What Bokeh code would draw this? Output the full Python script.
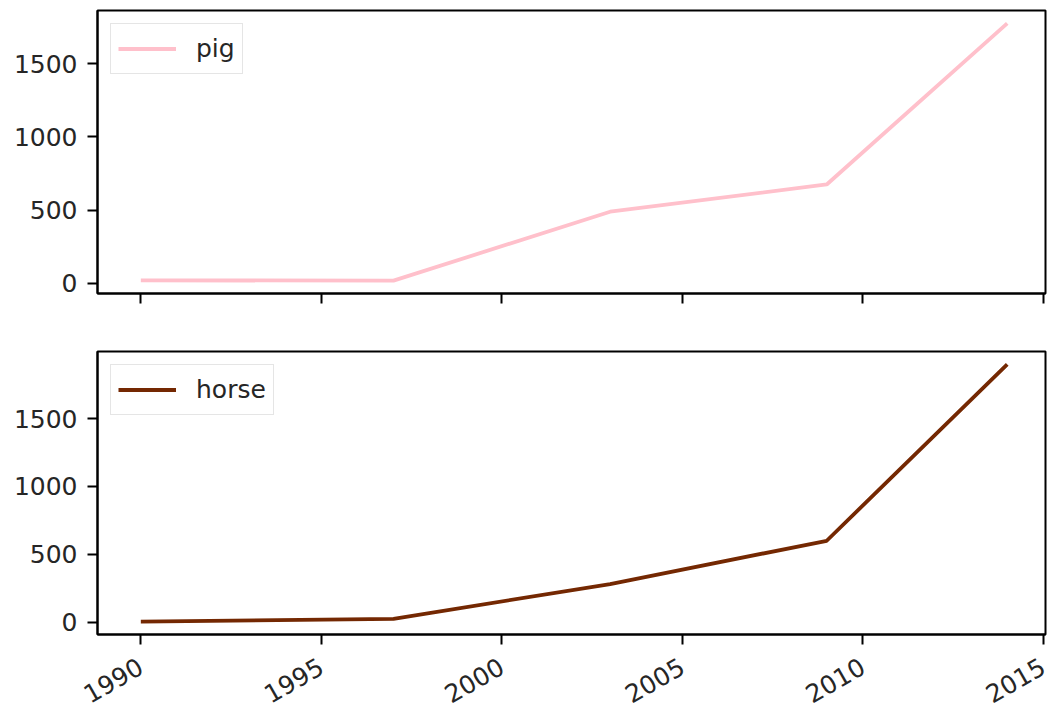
import math
from bokeh.plotting import figure
from bokeh.layouts import column
from bokeh.models import Range1d, FixedTicker, Legend, LegendItem
from bokeh.embed import file_html
from bokeh.resources import INLINE

years = [1990, 1997, 2003, 2009, 2014]
pig = [20, 18, 489, 675, 1776]
horse = [4, 25, 281, 600, 1900]
x_ticks = [1990, 1995, 2000, 2005, 2010, 2015]
y_ticks = [0, 500, 1000, 1500]

FONT = "DejaVu Sans"
FS = "25px"

x_range = Range1d(1988.8, 2015.06)


def make_fig(height, yr, show_labels, top, bottom):
    p = figure(width=1047, height=height, x_range=x_range, y_range=Range1d(*yr),
               output_backend="svg", toolbar_location=None,
               min_border_left=97, min_border_right=2, min_border_top=top,
               min_border_bottom=bottom)
    p.grid.visible = False
    p.outline_line_color = "black"
    p.outline_line_width = 2
    p.outline_line_alpha = 1.0
    for ax in (p.xaxis[0], p.yaxis[0]):
        ax.axis_line_width = 2
        ax.major_tick_line_width = 2
        ax.major_tick_out = 10
        ax.major_tick_in = 0
        ax.minor_tick_line_color = None
        ax.major_label_text_font = FONT
        ax.major_label_text_font_size = FS
        ax.major_label_text_color = "#262626"
    p.xaxis.ticker = FixedTicker(ticks=x_ticks)
    p.yaxis.ticker = FixedTicker(ticks=y_ticks)
    p.yaxis.major_label_standoff = 10
    if show_labels:
        p.xaxis.major_label_orientation = math.pi / 6
        p.xaxis.major_label_standoff = 20
    else:
        p.xaxis.major_label_overrides = {t: "" for t in x_ticks}
        p.xaxis.major_label_standoff = 0
    return p


def add_series(p, ys, color, name):
    r = p.line(years, ys, line_color=color, line_width=3.8)
    leg = Legend(items=[LegendItem(label=name, renderers=[r])],
                 location="top_left", margin=13, padding=7,
                 glyph_width=58, glyph_height=35, label_height=35,
                 label_standoff=20,
                 label_text_font=FONT, label_text_font_size=FS,
                 label_text_color="#262626",
                 border_line_color="#cccccc", border_line_width=1.5,
                 background_fill_color="white", background_fill_alpha=0.8)
    p.add_layout(leg, "center")


p1 = make_fig(349, (-69.9, 1863.9), False, 10, 56)
add_series(p1, pig, "pink", "pig")

p2 = make_fig(365, (-90.8, 1994.8), True, 2, 76)
add_series(p2, horse, "#742802", "horse")

layout = column(p1, p2, spacing=0)
open("out.html", "w").write(file_html(layout, INLINE))
